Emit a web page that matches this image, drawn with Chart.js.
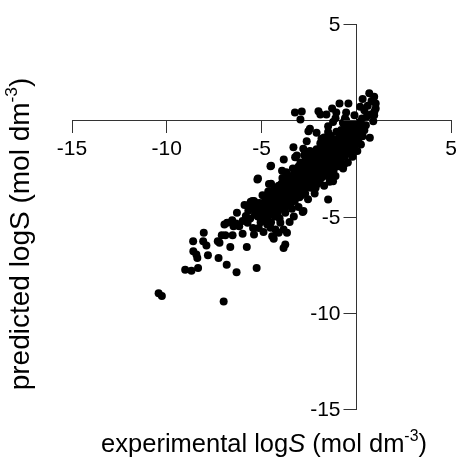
<!DOCTYPE html>
<html>
<head>
<meta charset="utf-8">
<script src="https://cdn.jsdelivr.net/npm/chart.js@4"></script>
<style>
  html, body { margin: 0; padding: 0; background: #fff; }
  #wrap { width: 461px; height: 459px; }
</style>
</head>
<body>
<div id="wrap">
  <canvas id="logsChart" width="461" height="459"></canvas>
</div>
<script>
// experimental vs predicted logS: [experimental, predicted]
const lowTail = [
  [-10.43, -8.99], [-10.26, -9.13], [-7.0, -9.42], [-9.03, -7.76], [-8.7, -7.82], [-8.35, -7.68],
  [-6.32, -7.89], [-5.26, -7.68], [-6.84, -7.5], [-7.27, -7.15], [-7.83, -7.01], [-8.39, -7.15],
  [-8.6, -6.8], [-8.44, -6.98], [-8.61, -6.28], [-8.05, -5.84], [-8.08, -6.28], [-7.91, -6.51],
  [-7.31, -6.28], [-7.1, -5.98], [-6.91, -5.98], [-7.22, -6.37], [-6.53, -5.98], [-6.65, -6.58],
  [-6.0, -5.9], [-5.78, -6.58], [-5.4, -5.93], [-6.82, -5.32], [-6.96, -5.41], [-6.35, -5.36],
  [-6.18, -5.5], [-6.3, -4.8], [-5.83, -4.97], [-6.0, -5.24], [-5.74, -5.32], [-5.22, -4.62],
  [-4.88, -4.8], [-4.7, -5.41], [-4.44, -6.02], [-4.27, -5.67], [-6.48, -5.5], [-6.55, -5.2]
];
const lowerSide = [
  [-3.84, -6.63], [-3.75, -6.46], [-4.36, -6.16], [-4.1, -5.85], [-3.84, -5.67], [-3.66, -5.85],
  [-4.53, -5.58], [-4.01, -5.32], [-3.52, -5.29], [-2.79, -4.71], [-3.3, -5.0], [-2.83, -4.76],
  [-1.49, -4.12], [-1.23, -3.17], [-1.41, -3.19], [-0.92, -2.39], [0.24, -1.26], [0.71, -0.91],
  [0.33, -0.83]
];
const upperSide = [
  [-5.19, -3.02], [-4.53, -2.39], [-3.83, -2.04], [-3.32, -1.4], [-3.23, -1.92], [-4.5, -2.36],
  [-5.22, -3.08], [-4.61, -3.31], [-3.92, -2.62], [-5.71, -4.42], [-5.57, -4.24], [-5.4, -4.19],
  [-5.23, -4.31], [-5.31, -4.71], [-5.14, -4.89], [-5.48, -4.19], [-2.45, -0.44], [-2.53, -0.57],
  [-2.1, -0.65], [-2.62, -1.09], [-1.49, -0.31], [-1.23, -0.09], [-0.71, -0.13], [-0.54, 0.0],
  [-1.84, -0.96], [-1.49, -0.61], [-2.8, -1.48], [-3.14, -1.83], [-2.45, -1.66]
];
const aboveAxis = [
  [-3.24, 0.4], [-2.88, 0.46], [-2.95, 0.04], [-2.0, 0.47], [-1.58, 0.3], [-1.28, 0.61],
  [-0.89, 0.87], [-0.42, 0.87], [-0.54, 0.4], [-0.1, 0.26], [-1.06, 0.4], [-1.9, 0.3],
  [-1.1, 0.1], [-0.6, 0.1], [0.68, 1.4], [0.94, 1.22], [1.02, 0.87], [1.02, 0.61],
  [0.94, 0.26], [0.89, -0.05], [0.33, 1.1], [0.42, 0.52], [0.3, 0.09], [0.5, -0.26],
  [0.42, -0.52], [0.8, 1.0], [0.6, 0.75], [0.75, 0.3], [0.2, 0.7], [0.95, 0.45], [0.55, 0.2]
];
const band = [
  [-5.9, -4.4], [-5.7, -4.7], [-5.6, -5.1], [-5.5, -4.3], [-5.45, -5.6], [-5.3, -4.6], [-5.2, -5.0],
  [-5.1, -4.3], [-5.05, -5.3], [-5.0, -4.8], [-4.95, -3.9], [-5.15, -5.6], [-4.9, -5.8], [-4.85, -4.5],
  [-4.8, -4.1], [-4.75, -4.7], [-4.7, -5.1], [-4.65, -3.7], [-4.6, -4.4], [-4.55, -4.9], [-4.5, -3.3],
  [-4.5, -5.3], [-4.45, -4.0], [-4.4, -4.6], [-4.35, -3.6], [-4.3, -5.0], [-4.25, -4.2], [-4.2, -3.9],
  [-4.15, -4.8], [-4.1, -3.4], [-4.1, -4.4], [-4.05, -5.1], [-4.0, -3.7], [-4.0, -4.1], [-3.95, -4.6],
  [-4.6, -3.9], [-4.35, -4.3], [-4.8, -4.4], [-3.9, -3.0], [-3.9, -3.8], [-3.85, -4.3], [-3.8, -3.4],
  [-3.75, -4.8], [-3.7, -2.7], [-3.7, -3.9], [-3.65, -4.4], [-3.6, -3.2], [-3.55, -3.6], [-3.5, -4.1],
  [-3.5, -2.9], [-3.45, -3.4], [-3.4, -4.6], [-3.4, -3.8], [-3.35, -2.5], [-3.3, -3.1], [-3.25, -4.2],
  [-3.2, -3.5], [-3.2, -2.8], [-3.15, -3.9], [-3.1, -3.2], [-3.05, -2.4], [-3.05, -4.5], [-3.0, -3.6],
  [-3.0, -2.9], [-3.8, -3.6], [-3.6, -4.0], [-3.3, -3.7], [-3.1, -3.0], [-2.95, -2.2], [-2.9, -3.3],
  [-2.9, -3.9], [-2.85, -2.6], [-2.8, -3.0], [-2.75, -1.8], [-2.75, -3.6], [-2.7, -2.4], [-2.65, -2.8],
  [-2.6, -3.3], [-2.6, -2.0], [-2.55, -4.1], [-2.5, -2.6], [-2.5, -3.0], [-2.45, -1.6], [-2.4, -2.3],
  [-2.4, -3.5], [-2.35, -2.8], [-2.3, -1.9], [-2.3, -3.2], [-2.25, -2.5], [-2.2, -3.8], [-2.2, -2.1],
  [-2.15, -2.9], [-2.1, -1.5], [-2.1, -2.6], [-2.05, -3.3], [-2.0, -2.2], [-2.0, -2.9], [-2.8, -2.9],
  [-2.6, -2.6], [-2.35, -2.1], [-2.15, -3.5], [-1.95, -1.8], [-1.9, -2.5], [-1.9, -1.2], [-1.85, -3.0],
  [-1.8, -2.1], [-1.8, -1.6], [-1.75, -2.7], [-1.7, -0.9], [-1.7, -3.4], [-1.65, -1.9], [-1.6, -2.3],
  [-1.6, -1.4], [-1.55, -2.8], [-1.5, -1.1], [-1.5, -2.0], [-1.45, -2.5], [-1.4, -1.6], [-1.4, -3.0],
  [-1.35, -0.8], [-1.3, -2.2], [-1.3, -1.3], [-1.25, -1.8], [-1.2, -2.6], [-1.2, -1.0], [-1.15, -2.0],
  [-1.1, -1.5], [-1.1, -2.9], [-1.05, -0.6], [-1.0, -1.2], [-1.0, -2.3], [-1.85, -2.3], [-1.55, -1.7],
  [-1.25, -2.4], [-1.65, -1.1], [-0.95, -1.8], [-0.9, -0.9], [-0.9, -1.5], [-0.85, -2.1], [-0.8, -0.5],
  [-0.8, -1.2], [-0.75, -1.7], [-0.7, -2.5], [-0.7, -0.9], [-0.65, -1.4], [-0.6, -0.3], [-0.6, -1.9],
  [-0.55, -1.1], [-0.5, -0.7], [-0.5, -1.6], [-0.45, -2.2], [-0.4, -0.4], [-0.4, -1.2], [-0.35, -0.9],
  [-0.3, -1.6], [-0.3, -0.2], [-0.25, -0.7], [-0.2, -1.1], [-0.15, -0.4], [-0.1, -0.8], [-0.1, -1.4],
  [-0.05, -0.2], [0.0, -0.6], [0.05, -0.3], [0.1, -1.0], [0.15, -0.1], [0.2, -0.5], [-0.2, -1.9],
  [-0.65, -2.3], [0.05, -1.6]
];
const core = [
  [-5.6, -4.5], [-5.35, -4.9], [-5.25, -4.4], [-5.0, -4.5], [-4.9, -5.1], [-4.75, -4.3], [-4.7, -3.9],
  [-4.6, -4.7], [-4.5, -4.2], [-4.45, -4.7], [-4.4, -3.8], [-4.3, -4.5], [-4.25, -3.5], [-4.2, -4.6],
  [-4.15, -4.0], [-4.05, -3.6], [-4.0, -4.4], [-3.95, -3.3], [-3.9, -4.1], [-3.85, -3.7], [-3.8, -4.6],
  [-3.75, -3.1], [-3.7, -3.5], [-3.65, -4.1], [-3.6, -2.9], [-3.55, -3.9], [-3.5, -3.3], [-3.45, -4.3],
  [-3.4, -3.0], [-3.35, -3.6], [-3.3, -4.0], [-3.25, -2.7], [-3.2, -3.3], [-3.15, -3.7], [-3.1, -2.6],
  [-3.05, -3.4], [-3.0, -4.0], [-2.95, -3.0], [-2.9, -2.4], [-2.85, -3.5], [-2.8, -2.7], [-2.75, -3.2],
  [-2.7, -2.1], [-2.7, -3.8], [-2.65, -2.5], [-2.6, -3.0], [-2.55, -2.2], [-2.5, -3.4], [-2.45, -2.8],
  [-2.4, -2.0], [-2.35, -3.0], [-2.3, -2.5], [-2.25, -1.7], [-2.25, -3.4], [-2.2, -2.8], [-2.15, -2.3],
  [-2.1, -3.0], [-2.05, -1.9], [-2.0, -2.6], [-1.95, -3.2], [-1.95, -2.1], [-1.9, -1.6], [-1.85, -2.7],
  [-1.8, -1.3], [-1.75, -2.3], [-1.7, -1.8], [-1.7, -2.9], [-1.65, -2.5], [-1.6, -1.2], [-1.55, -2.1],
  [-1.5, -1.5], [-1.5, -2.7], [-1.45, -1.9], [-1.4, -1.2], [-1.35, -2.2], [-1.3, -1.6], [-1.25, -2.7],
  [-1.2, -1.4], [-1.15, -2.3], [-1.1, -1.0], [-1.05, -1.8], [-1.0, -1.5], [-0.95, -2.2], [-0.9, -1.2],
  [-0.85, -0.7], [-0.85, -1.7], [-0.75, -1.0], [-0.7, -1.9], [-0.65, -0.6], [-0.6, -1.5], [-0.55, -0.9],
  [-0.5, -1.3], [-0.45, -0.5], [-0.4, -1.7], [-0.35, -1.1], [-0.3, -0.6], [-0.25, -1.3], [-0.2, -0.3],
  [-0.15, -0.9], [-0.05, -0.5], [-0.05, -1.1], [0.1, -0.4], [0.1, -0.7], [0.2, -0.2]
];
const tickValues = [-15, -10, -5, 0, 5];

const allPoints = [...lowTail, ...lowerSide, ...upperSide, ...aboveAxis, ...band, ...core]
  .map(p => ({ x: p[0], y: p[1] }));

const FONT = '"Liberation Sans", Arial, Helvetica, sans-serif';
const axisColor = '#333';
const TICK_FONT = 21;

// rich axis titles (italic S, superscript -3)
function drawRich(ctx, parts, cx, cy, size) {
  let w = 0;
  parts.forEach(p => {
    const s = p.sup ? size * 0.62 : size;
    ctx.font = (p.italic ? 'italic ' : '') + s + 'px ' + FONT;
    p.w = ctx.measureText(p.t).width;
    w += p.w;
  });
  let x = cx - w / 2;
  parts.forEach(p => {
    const s = p.sup ? size * 0.62 : size;
    ctx.font = (p.italic ? 'italic ' : '') + s + 'px ' + FONT;
    ctx.fillText(p.t, x, p.sup ? cy - size * 0.42 : cy);
    x += p.w;
  });
}

// y axis sits at x = 0; Chart.js puts its labels on the line, so draw ticks + labels here
const yAxisDecor = {
  id: 'yAxisDecor',
  afterDraw(chart) {
    const { ctx, scales: { x, y } } = chart;
    const ax = Math.round(x.getPixelForValue(0)) + 0.5;
    ctx.save();
    ctx.strokeStyle = axisColor;
    ctx.lineWidth = 1;
    ctx.fillStyle = '#000';
    ctx.font = TICK_FONT + 'px ' + FONT;
    ctx.textAlign = 'right';
    ctx.textBaseline = 'middle';
    tickValues.forEach(v => {
      const py = Math.round(y.getPixelForValue(v)) + 0.5;
      ctx.beginPath();
      ctx.moveTo(ax, py);
      ctx.lineTo(ax - 13, py);
      ctx.stroke();
      if (v !== 0) ctx.fillText(String(v), ax - 16, py + 1);
    });
    ctx.restore();
  }
};

const axisTitles = {
  id: 'axisTitles',
  afterDraw(chart) {
    const ctx = chart.ctx;
    ctx.save();
    ctx.fillStyle = '#000';
    ctx.textBaseline = 'alphabetic';
    drawRich(ctx, [
      { t: 'experimental log' }, { t: 'S', italic: true }, { t: ' (mol dm' },
      { t: '-3', sup: true }, { t: ')' }
    ], 264, 452, 25.5);
    ctx.translate(29, 234);
    ctx.rotate(-Math.PI / 2);
    drawRich(ctx, [
      { t: 'predicted logS (mol dm' }, { t: '-3', sup: true }, { t: ')' }
    ], 0, 0, 28);
    ctx.restore();
  }
};

new Chart(document.getElementById('logsChart'), {
  type: 'scatter',
  data: {
    datasets: [{
      data: allPoints,
      backgroundColor: '#000',
      borderWidth: 0,
      pointRadius: 4,
      pointHoverRadius: 4
    }]
  },
  options: {
    responsive: false,
    animation: false,
    layout: { padding: { left: 72, right: 6, top: 24, bottom: 50 } },
    plugins: { legend: { display: false }, tooltip: { enabled: false } },
    scales: {
      x: {
        type: 'linear', min: -15, max: 5, position: { y: 0 },
        afterBuildTicks: s => { s.ticks = tickValues.map(v => ({ value: v })); },
        ticks: {
          color: '#000', font: { family: FONT, size: TICK_FONT }, padding: 4, maxRotation: 0,
          autoSkip: false, callback: v => (v === 0 ? '' : String(v))
        },
        grid: { drawOnChartArea: false, tickLength: 12, color: axisColor, lineWidth: 1 },
        border: { color: axisColor, width: 1 }
      },
      y: {
        type: 'linear', min: -15, max: 5, position: { x: 0 },
        afterBuildTicks: s => { s.ticks = tickValues.map(v => ({ value: v })); },
        ticks: { display: false },
        grid: { drawOnChartArea: false, drawTicks: false },
        border: { color: axisColor, width: 1 }
      }
    }
  },
  plugins: [yAxisDecor, axisTitles]
});
</script>
</body>
</html>
